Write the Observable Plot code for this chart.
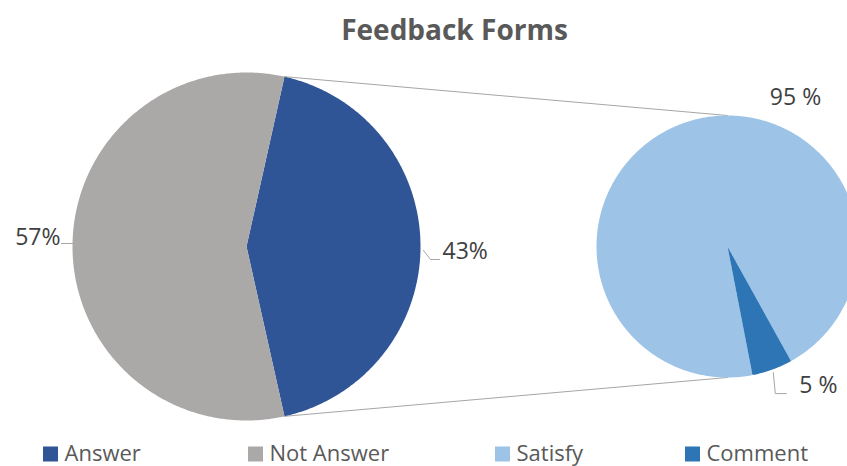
<!DOCTYPE html>
<html>
<head>
<meta charset="utf-8">
<script src="https://cdn.jsdelivr.net/npm/d3@7"></script>
<script src="https://cdn.jsdelivr.net/npm/@observablehq/plot@0.6"></script>
<style>
  html, body { margin: 0; padding: 0; background: #fff; overflow: hidden; }
</style>
</head>
<body>
<div id="chart"></div>
<script>
// ---------------- data ----------------
const chartTitle = "Feedback Forms";
const primaryCategories = ["Answer", "Not Answer"];
const primaryValues = [43, 57];
const primaryLabels = ["43%", "57%"];
const secondaryCategories = ["Satisfy", "Comment"];
const secondaryValues = [95, 5];
const secondaryLabels = ["95 %", "5 %"];
const legendCategories = ["Answer", "Not Answer", "Satisfy", "Comment"];

// ---------------- styles / layout ----------------
const colors = {
  "Answer": "#2F5597",
  "Not Answer": "#ABA8A8",
  "Satisfy": "#9DC3E6",
  "Comment": "#2E75B6"
};
const W = 847, H = 466;
const FONT = "'Open Sans', Lato, sans-serif";
const leftPie = {cx: 246, cy: 246, r: 174};
const rightPie = {cx: 727, cy: 246, r: 131, start: 169};
const legendX = [43, 248, 495, 685];
const legendY = 453;
const swatch = 15;

const rad = (d) => d * Math.PI / 180;
const deg = (r) => r * 180 / Math.PI;

// primary pie: first slice centred on the right-hand side (towards the secondary pie)
const leftTotal = d3.sum(primaryValues);
const leftStart = 90 - primaryValues[0] / leftTotal * 180;
const leftArcs = d3.pie().sort(null).value(d => d)
  .startAngle(rad(leftStart)).endAngle(rad(leftStart + 360))(primaryValues);
const rightArcs = d3.pie().sort(null).value(d => d)
  .startAngle(rad(rightPie.start)).endAngle(rad(rightPie.start + 360))(secondaryValues);

function pt(pie, a, r = pie.r) {
  return {x: pie.cx + r * Math.sin(rad(a)), y: pie.cy - r * Math.cos(rad(a))};
}
function slice(pie, arc) {
  const a0 = deg(arc.startAngle), a1 = deg(arc.endAngle);
  const n = Math.max(2, Math.ceil((a1 - a0) / 0.5));
  const pts = [{x: pie.cx, y: pie.cy}];
  for (let i = 0; i <= n; i++) pts.push(pt(pie, a0 + (a1 - a0) * i / n));
  pts.push({x: pie.cx, y: pie.cy});
  return pts;
}

const marks = [];

// connector lines between the "Answer" slice and the secondary pie
const aStart = deg(leftArcs[0].startAngle), aEnd = deg(leftArcs[0].endAngle);
marks.push(Plot.line([pt(leftPie, aStart), pt(rightPie, 0)], {x: "x", y: "y", stroke: "#A6A6A6", strokeWidth: 1}));
marks.push(Plot.line([pt(leftPie, aEnd), pt(rightPie, 180)], {x: "x", y: "y", stroke: "#A6A6A6", strokeWidth: 1}));

// slices
leftArcs.forEach((arc, i) => {
  marks.push(Plot.line(slice(leftPie, arc), {x: "x", y: "y", fill: colors[primaryCategories[i]], stroke: "none"}));
});
rightArcs.forEach((arc, i) => {
  marks.push(Plot.line(slice(rightPie, arc), {x: "x", y: "y", fill: colors[secondaryCategories[i]], stroke: "none"}));
});

// data labels with leader lines
const leaderStyle = {x: "x", y: "y", stroke: "#A6A6A6", strokeWidth: 1};
const labelStyle = {fontSize: 23, fill: "#404040", fontFamily: FONT};
// 43% (Answer, mid-angle on the right)
{
  const m = pt(leftPie, deg((leftArcs[0].startAngle + leftArcs[0].endAngle) / 2), leftPie.r + 2);
  const lead = [{x: m.x + 1, y: m.y + 4}, {x: m.x + 8, y: m.y + 13}, {x: m.x + 17, y: m.y + 13}];
  marks.push(Plot.line(lead, leaderStyle));
  marks.push(Plot.text([primaryLabels[0]], {x: () => m.x + 20, y: () => m.y + 5, text: d => d, textAnchor: "start", ...labelStyle}));
}
// 57% (Not Answer, mid-angle on the left)
{
  const m = pt(leftPie, deg((leftArcs[1].startAngle + leftArcs[1].endAngle) / 2), leftPie.r);
  const lead = [{x: m.x, y: m.y - 3}, {x: m.x - 11, y: m.y - 3}];
  marks.push(Plot.line(lead, leaderStyle));
  marks.push(Plot.text([primaryLabels[1]], {x: () => m.x - 12, y: () => m.y - 9, text: d => d, textAnchor: "end", ...labelStyle}));
}
// 95 % (Satisfy, above the secondary pie)
marks.push(Plot.text([secondaryLabels[0]], {x: () => rightPie.cx + 68, y: () => rightPie.cy - 149, text: d => d, textAnchor: "middle", ...labelStyle}));
// 5 % (Comment, below the secondary pie)
{
  const m = pt(rightPie, deg((rightArcs[1].startAngle + rightArcs[1].endAngle) / 2), rightPie.r);
  const lead = [{x: m.x + 1, y: m.y + 3}, {x: m.x + 3, y: m.y + 24}, {x: m.x + 14, y: m.y + 24}];
  marks.push(Plot.line(lead, leaderStyle));
  marks.push(Plot.text([secondaryLabels[1]], {x: () => m.x + 27, y: () => m.y + 16, text: d => d, textAnchor: "start", ...labelStyle}));
}

// title
marks.push(Plot.text([chartTitle], {x: () => 454, y: () => 31, text: d => d, fontSize: 28, fontWeight: "bold", fill: "#595959", fontFamily: FONT}));

// legend
const legendData = legendCategories.map((c, i) => ({c, x: legendX[i]}));
marks.push(Plot.rect(legendData, {x1: d => d.x, x2: d => d.x + swatch, y1: legendY - swatch / 2 + 1, y2: legendY + swatch / 2 + 1, fill: d => colors[d.c], inset: 0}));
marks.push(Plot.text(legendData, {x: d => d.x + swatch + 6, y: () => legendY, text: "c", textAnchor: "start", fontSize: 22, fill: "#595959", fontFamily: FONT}));

const chart = Plot.plot({
  width: W,
  height: H,
  margin: 0,
  x: {domain: [0, W], range: [0, W], axis: null},
  y: {domain: [0, H], range: [0, H], axis: null},
  style: {background: "#fff", overflow: "hidden", fontFamily: FONT},
  marks
});
document.getElementById("chart").append(chart);
</script>
</body>
</html>
